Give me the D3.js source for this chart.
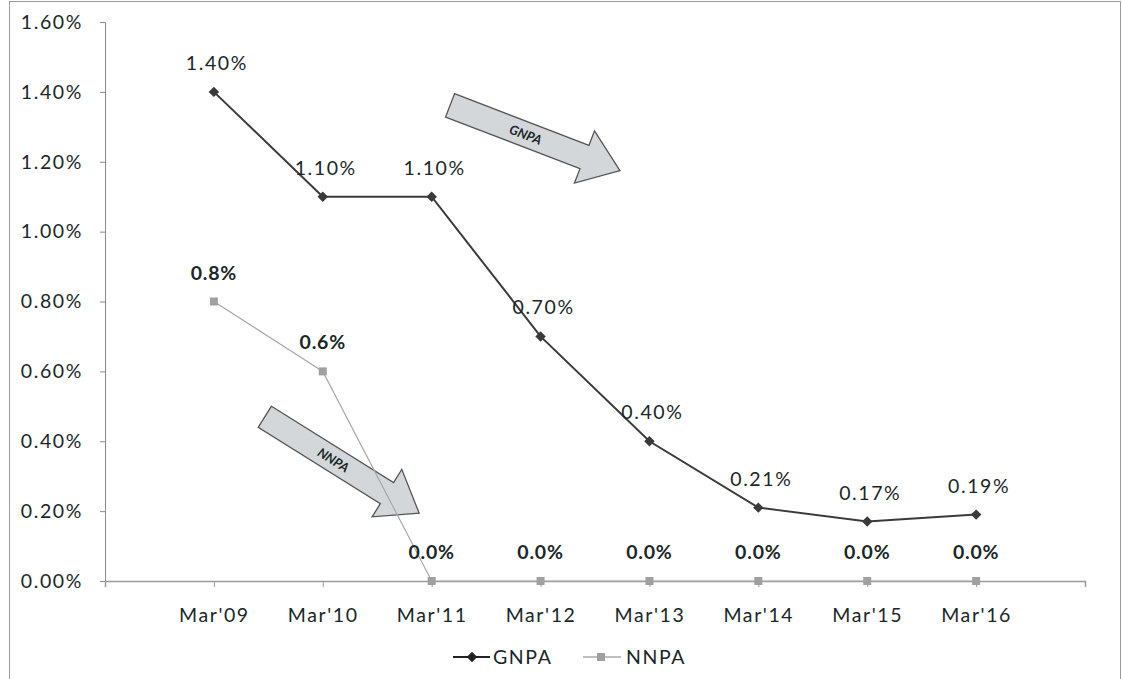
<!DOCTYPE html>
<html><head><meta charset="utf-8">
<script src="https://cdn.jsdelivr.net/npm/d3@7"></script>
<style>
body{margin:0;background:#fff;}
svg text{font-family:Lato,"Open Sans",sans-serif;fill:#1a2727;}
</style></head>
<body><svg id="c" width="1122" height="679"></svg>
<script>
const categories = ["Mar'09","Mar'10","Mar'11","Mar'12","Mar'13","Mar'14","Mar'15","Mar'16"];
const gnpa = [1.40, 1.10, 1.10, 0.70, 0.40, 0.21, 0.17, 0.19];
const nnpa = [0.8, 0.6, 0.0, 0.0, 0.0, 0.0, 0.0, 0.0];
const yTicks = [0, 0.2, 0.4, 0.6, 0.8, 1.0, 1.2, 1.4, 1.6];
const seriesNames = ["GNPA", "NNPA"];

const FS = "19.5px", LS = "1.6px";
const svg = d3.select("#c");
svg.append("rect").attr("x",9.5).attr("y",1.5).attr("width",1111).attr("height",690)
  .attr("fill","#fff").attr("stroke","#9a9a9a");

const pLeft = 105, pRight = 1085, pTop = 22, pBottom = 581;
const x = d3.scalePoint().domain(categories).range([pLeft, pRight]).padding(1);
const y = d3.scaleLinear().domain([0, 1.6]).range([pBottom, pTop]);

// y axis
const yAxis = svg.append("g").attr("transform", `translate(${pLeft},0)`)
  .call(d3.axisLeft(y).tickValues(yTicks).tickSize(5).tickPadding(17).tickFormat(d => d.toFixed(2) + "%"));
yAxis.select(".domain").attr("stroke","#8a8a8a");
yAxis.selectAll(".tick line").attr("stroke","#8a8a8a");
yAxis.selectAll("text").style("font-size",FS).style("letter-spacing",LS).attr("fill","#1a2727");

// x axis
const xAxis = svg.append("g").attr("transform", `translate(0,${pBottom})`)
  .call(d3.axisBottom(x).tickSize(6).tickPadding(21).tickSizeOuter(6));
xAxis.select(".domain").attr("stroke","#9a9a9a").attr("stroke-width",1.5);
xAxis.selectAll(".tick line").attr("stroke","#9a9a9a");
xAxis.selectAll("text").style("font-size",FS).style("letter-spacing",LS).attr("fill","#1a2727");

// arrows
function blockArrow(cx, cy, angle, label) {
  const L = 182, sw = 25, hw = 56, hl = 38;
  const x0 = -L/2, x1 = L/2 - hl, x2 = L/2;
  const pts = [[x0,-sw/2],[x1,-sw/2],[x1,-hw/2],[x2,0],[x1,hw/2],[x1,sw/2],[x0,sw/2]];
  const g = svg.append("g").attr("transform", `translate(${cx},${cy}) rotate(${angle})`);
  g.append("polygon").attr("points", pts.map(p => p.join(",")).join(" "))
    .attr("fill","#d3d7d9").attr("stroke","#555").attr("stroke-width",1.3);
  g.append("text").attr("x",-10).attr("y",5).attr("text-anchor","middle")
    .style("font-size","13px").style("font-style","italic").style("font-weight","bold")
    .attr("fill","#2a3535").text(label);
}
blockArrow(535, 138, 21, "GNPA");
blockArrow(342, 465, 32, "NNPA");

// NNPA line
const line = d3.line().x((d,i) => x(categories[i])).y(d => y(d));
svg.append("path").datum(nnpa).attr("d", line).attr("fill","none")
  .attr("stroke","#a8a8a8").attr("stroke-width",1.2);
svg.selectAll(".nm").data(nnpa).join("rect")
  .attr("x",(d,i)=>x(categories[i])-4).attr("y",d=>y(d)-4).attr("width",8).attr("height",8)
  .attr("fill","#a0a0a0");

// GNPA line
svg.append("path").datum(gnpa).attr("d", line).attr("fill","none")
  .attr("stroke","#3a3a3a").attr("stroke-width",2);
svg.selectAll(".gm").data(gnpa).join("path")
  .attr("transform",(d,i)=>`translate(${x(categories[i])},${y(d)})`)
  .attr("d", d3.symbol(d3.symbolDiamond2, 70)).attr("fill","#3a3a3a");

// labels
svg.selectAll(".gl").data(gnpa).join("text")
  .attr("x",(d,i)=>x(categories[i])+3).attr("y",d=>y(d)-22).attr("text-anchor","middle")
  .style("font-size",FS).style("letter-spacing",LS).text(d=>d.toFixed(2)+"%");
svg.selectAll(".nl").data(nnpa).join("text")
  .attr("x",(d,i)=>x(categories[i])).attr("y",d=>y(d)-22).attr("text-anchor","middle")
  .style("font-size",FS).style("font-weight","bold").style("letter-spacing","0.8px").text(d=>d.toFixed(1)+"%");

// legend
const lg = svg.append("g");
lg.append("line").attr("x1",453).attr("x2",490).attr("y1",657).attr("y2",657).attr("stroke","#222").attr("stroke-width",2);
lg.append("path").attr("transform","translate(472,657)").attr("d", d3.symbol(d3.symbolDiamond2, 70)).attr("fill","#222");
lg.append("text").attr("x",493).attr("y",664).style("font-size",FS).style("letter-spacing",LS).text(seriesNames[0]);
lg.append("line").attr("x1",583).attr("x2",621).attr("y1",657).attr("y2",657).attr("stroke","#aaa").attr("stroke-width",1.5);
lg.append("rect").attr("x",597).attr("y",653).attr("width",8).attr("height",8).attr("fill","#a0a0a0");
lg.append("text").attr("x",626).attr("y",664).style("font-size",FS).style("letter-spacing",LS).text(seriesNames[1]);
</script></body></html>
